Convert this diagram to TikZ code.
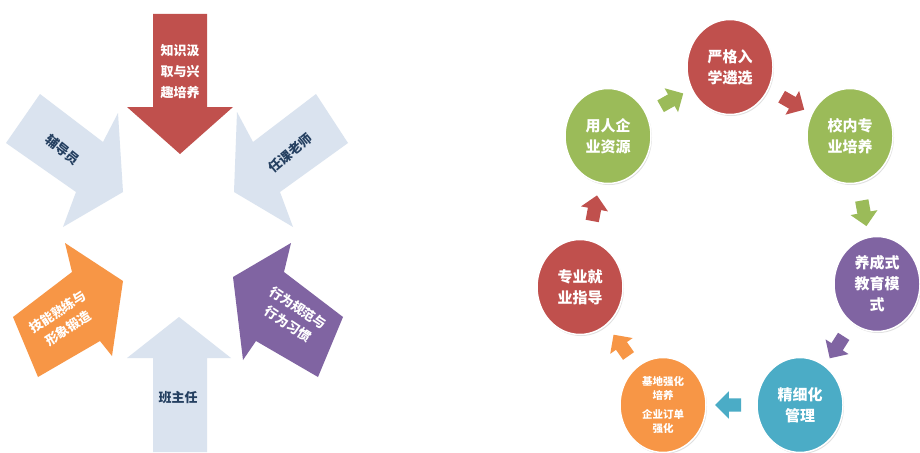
\documentclass[tikz,border=0pt]{standalone}
\usepackage{fontspec}
\usepackage{xcolor}
\newfontfamily\cjk{Noto Sans CJK SC}
\usetikzlibrary{shapes.geometric,shapes.arrows,shadows}
\definecolor{brickred}{HTML}{C0504D}
\definecolor{leafgreen}{HTML}{9BBB59}
\definecolor{plum}{HTML}{8064A2}
\definecolor{sea}{HTML}{4BACC6}
\definecolor{amber}{HTML}{F79646}
\definecolor{mist}{HTML}{DAE3EF}
\definecolor{ink}{HTML}{243F60}
\tikzset{
  ball/.style={ellipse, minimum width=86pt, minimum height=95pt, inner sep=0pt,
    draw=white, line width=1.5pt, text=white, align=center,
    drop shadow={opacity=0.25, shadow xshift=1pt, shadow yshift=-1.5pt},
    font=\cjk\bfseries\fontsize{15}{21}\selectfont},
  turn/.style={single arrow, sloped, allow upside down, inner xsep=0pt,
    inner ysep=6.5pt, minimum height=26pt, single arrow head extend=7pt},
  palelabel/.style={text=ink, align=center, font=\cjk\bfseries\fontsize{13}{17}\selectfont},
  whitelabel/.style={text=white, align=center, font=\cjk\bfseries\fontsize{13}{19}\selectfont}
}
\begin{document}
\begin{tikzpicture}[x=1pt,y=-1pt]
    \useasboundingbox[fill=white] (0,0) rectangle (920,452);
    \fill[brickred] (153,14) -- (207,14) -- (207,107) -- (233,107) -- (180,154) -- (127,107) -- (153,107) -- cycle;
    \fill[mist] (153,452) -- (207,452) -- (207,358) -- (231,358) -- (179,317) -- (127,358) -- (153,358) -- cycle;
    \fill[mist] (40,94) -- (103,142) -- (118,113) -- (123,192) -- (63,227) -- (76,192) -- (6,143) -- cycle;
    \fill[mist] (316,94) -- (253,142) -- (237,112) -- (234,192) -- (293,227) -- (280,192) -- (348,143) -- cycle;
    \fill[amber] (13,317) -- (72,272) -- (65,243) -- (123,281) -- (112,356) -- (100,341) -- (38,377) -- cycle;
    \fill[plum] (343,317) -- (284,272) -- (291,243) -- (233,277) -- (243,360) -- (256,341) -- (318,377) -- cycle;

    \node[whitelabel, font=\cjk\bfseries\fontsize{13}{21}\selectfont] (zhishi) at (180,72) {知识汲\\取与兴\\趣培养};
    \node[palelabel, rotate=-39] (fudao) at (63,150) {辅导员};
    \node[palelabel, rotate=40] (renke) at (290,153) {任课老师};
    \node[whitelabel, rotate=33] (jineng) at (63,320) {技能熟练与\\形象锻造};
    \node[whitelabel, rotate=-33] (xingwei) at (293,316) {行为规范与\\行为习惯};
    \node[palelabel] (banzhu) at (178,398) {班主任};

    \node[ball, fill=brickred] (yange) at (730,67) {严格入\\学遴选};
    \node[ball, fill=leafgreen] (xiaonei) at (850,136) {校内专\\业培养};
    \node[ball, fill=plum] (yangcheng) at (877,284) {养成式\\教育模\\式};
    \node[ball, fill=sea] (jingxi) at (800,405) {精细化\\管理};
    \node[ball, fill=amber, font=\cjk\bfseries\fontsize{10.5}{14}\selectfont] (jidi) at (663,405) {基地强化\\培养\\[5pt]企业订单\\强化};
    \node[ball, fill=brickred] (zhidao) at (580,287) {专业就\\业指导};
    \node[ball, fill=leafgreen] (yongren) at (608,136) {用人企\\业资源};

    \path (yongren) -- node[turn, fill=leafgreen] {} (yange);
    \path (yange) -- node[turn, fill=brickred] {} (xiaonei);
    \path (xiaonei) -- node[turn, fill=leafgreen] {} (yangcheng);
    \path (yangcheng) -- node[turn, fill=plum] {} (jingxi);
    \path (jingxi) -- node[turn, fill=sea] {} (jidi);
    \path (jidi) -- node[turn, fill=amber, pos=0.45] {} (zhidao);
    \path (zhidao) -- node[turn, fill=brickred] {} (yongren);
\end{tikzpicture}
\end{document}
